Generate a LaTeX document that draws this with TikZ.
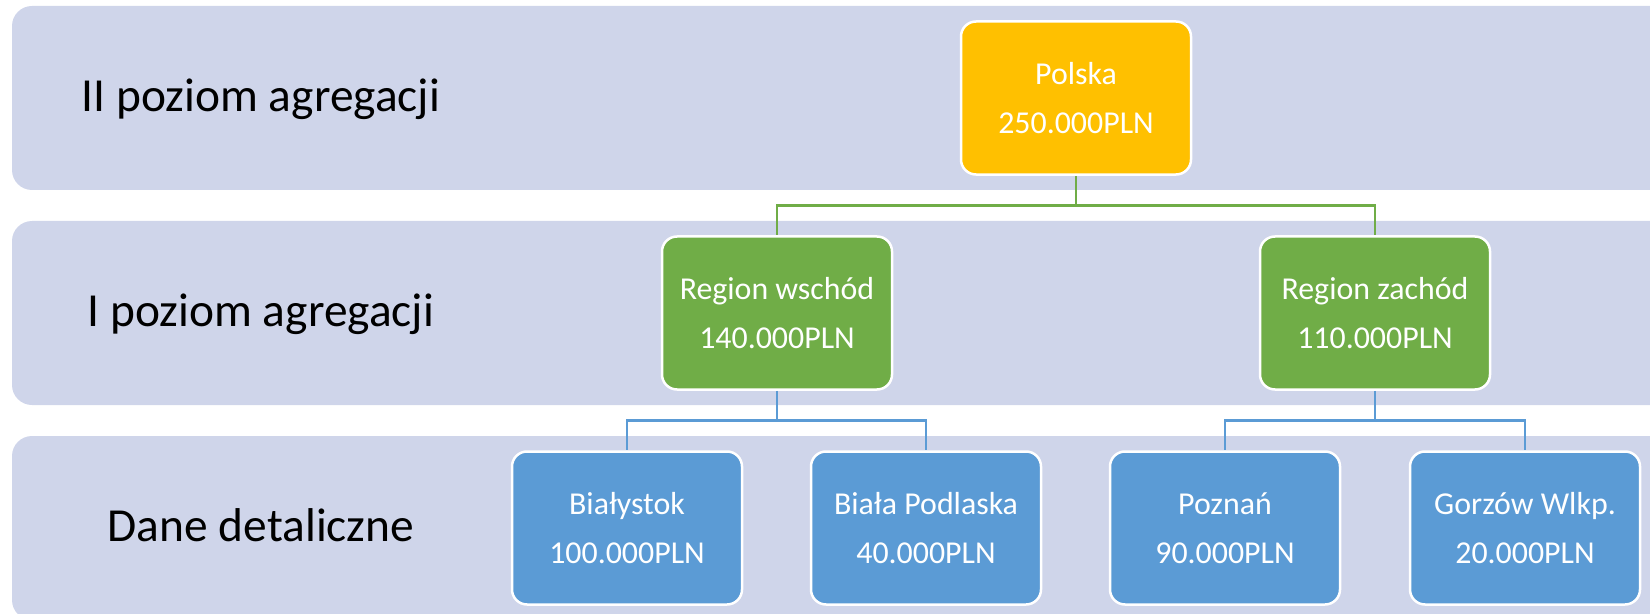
\documentclass[tikz,border=0pt]{standalone}
\usepackage{fontspec}
\setmainfont{Carlito}
\definecolor{bandfill}{HTML}{CFD5EA}
\definecolor{topfill}{HTML}{FFC000}
\definecolor{midfill}{HTML}{70AD47}
\definecolor{lowfill}{HTML}{5B9BD5}
\tikzset{
  band/.style={fill=bandfill, draw=none, rounded corners=20bp},
  levellabel/.style={anchor=base, inner sep=0pt, text=black,
    font=\fontsize{47.6}{56}\selectfont},
  unitbox/.style={draw=white, line width=2.5bp, rounded corners=15bp,
    minimum width=230bp, minimum height=153bp, inner sep=0pt,
    text=white, align=center, font=\fontsize{32}{49.4}\selectfont},
  topbox/.style={unitbox, fill=topfill},
  midbox/.style={unitbox, fill=midfill},
  lowbox/.style={unitbox, fill=lowfill},
  midlink/.style={draw=midfill, line width=2.5bp},
  lowlink/.style={draw=lowfill, line width=2.5bp},
}
\begin{document}
\begin{tikzpicture}[x=1bp, y=-1bp]
  \useasboundingbox (0,0) rectangle (1650,614);
  \clip (0,0) rectangle (1650,614);

  % three horizontal level bands, running off the right and bottom edges
  \fill[band] (12,6)   rectangle (1700,190);
  \fill[band] (12,221) rectangle (1700,405);
  \fill[band] (12,436) rectangle (1700,620);

  % level captions
  \node[levellabel] (lab2) at (261,111.7) {II poziom agregacji};
  \node[levellabel] (lab1) at (261,326.7) {I poziom agregacji};
  \node[levellabel] (lab0) at (261,541.7) {Dane detaliczne};

  % hierarchy boxes
  \node[topbox] (pl) at (1076,98)  {Polska\\250.000PLN};
  \node[midbox] (rw) at (777,313)  {Region wschód\\140.000PLN};
  \node[midbox] (rz) at (1375,313) {Region zachód\\110.000PLN};
  \node[lowbox] (bi) at (627,528)  {Białystok\\100.000PLN};
  \node[lowbox] (bp) at (926,528)  {Biała Podlaska\\40.000PLN};
  \node[lowbox] (po) at (1225,528) {Poznań\\90.000PLN};
  \node[lowbox] (go) at (1525,528) {Gorzów Wlkp.\\20.000PLN};

  % elbow connectors through a shared horizontal bus
  \coordinate (busT) at (1076,205.5);
  \coordinate (busW) at (777,420.7);
  \coordinate (busZ) at (1375,420.7);

  \draw[midlink] (pl.south) -- (busT) -| (rw.north);
  \draw[midlink] (busT) -| (rz.north);
  \draw[lowlink] (rw.south) -- (busW) -| (bi.north);
  \draw[lowlink] (busW) -| (bp.north);
  \draw[lowlink] (rz.south) -- (busZ) -| (po.north);
  \draw[lowlink] (busZ) -| (go.north);
\end{tikzpicture}
\end{document}
